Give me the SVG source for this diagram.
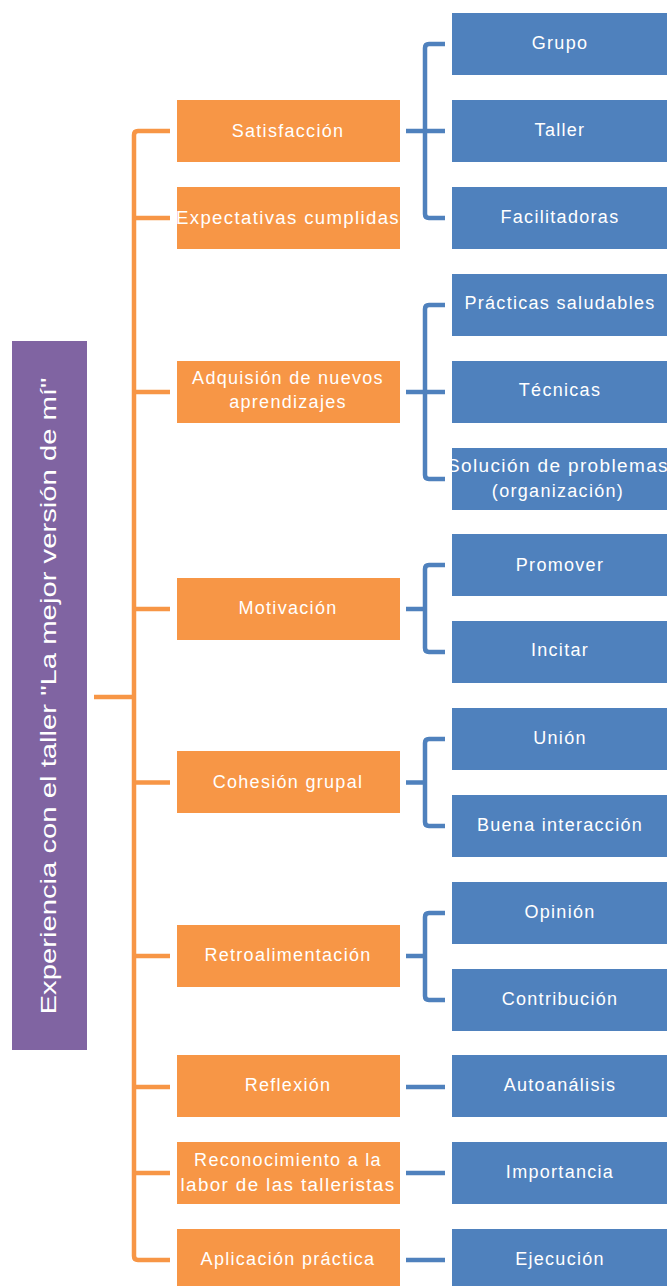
<svg xmlns="http://www.w3.org/2000/svg" width="667" height="1286" viewBox="0 0 667 1286">
<style>
.o{fill:#F79646}
.b{fill:#4F81BD}
.p{fill:#8064A2}
text{font-family:"Liberation Sans",Arial,sans-serif;fill:#FFFFFF;text-anchor:middle}
.t{font-size:18px;letter-spacing:1.3px}
.oc{fill:none;stroke:#F79646;stroke-width:4.5;stroke-linejoin:round}
.bc{fill:none;stroke:#4F81BD;stroke-width:4.5;stroke-linejoin:round}
</style>
<rect width="667" height="1286" fill="#FFFFFF"/>
<g id="connectors">
<path class="oc" d="M94 697H134"/>
<path class="oc" d="M170 131H138Q134 131 134 135V1256Q134 1260 138 1260H170"/>
<path class="oc" d="M134 218H170M134 392H170M134 609H170M134 782.5H170M134 956H170M134 1087H170M134 1173H170"/>
<path class="bc" d="M445 44H429Q425 44 425 48V214Q425 218 429 218H445M406 131H445"/>
<path class="bc" d="M445 305H429Q425 305 425 309V475Q425 479 429 479H445M406 392H445"/>
<path class="bc" d="M445 565H429Q425 565 425 569V648Q425 652 429 652H445M406 609H425"/>
<path class="bc" d="M445 739H429Q425 739 425 743V822Q425 826 429 826H445M406 782.5H425"/>
<path class="bc" d="M445 913H429Q425 913 425 917V996Q425 1000 429 1000H445M406 956H425"/>
<path class="bc" d="M406 1087H445M406 1173H445M406 1260H445"/>
</g>
<g id="root"><rect class="p" x="12" y="341" width="75" height="709"/><text transform="translate(56 696) rotate(-90)" font-size="22" textLength="637" lengthAdjust="spacingAndGlyphs">Experiencia con el taller "La mejor versión de mí"</text></g>
<g id="satisfaccion"><rect class="o" x="177" y="100" width="223" height="62"/><text class="t" x="288" y="137">Satisfacción</text></g>
<g id="expectativas"><rect class="o" x="177" y="187" width="223" height="62"/><text class="t" x="288" y="224" textLength="224" lengthAdjust="spacingAndGlyphs">Expectativas cumplidas</text></g>
<g id="adquisicion"><rect class="o" x="177" y="361" width="223" height="62"/><text class="t" x="288" y="384">Adquisión de nuevos</text><text class="t" x="288" y="408">aprendizajes</text></g>
<g id="motivacion"><rect class="o" x="177" y="578" width="223" height="62"/><text class="t" x="288" y="614">Motivación</text></g>
<g id="cohesion"><rect class="o" x="177" y="751" width="223" height="62"/><text class="t" x="288" y="788">Cohesión grupal</text></g>
<g id="retroalimentacion"><rect class="o" x="177" y="925" width="223" height="62"/><text class="t" x="288" y="961">Retroalimentación</text></g>
<g id="reflexion"><rect class="o" x="177" y="1055" width="223" height="62"/><text class="t" x="288" y="1091">Reflexión</text></g>
<g id="reconocimiento"><rect class="o" x="177" y="1142" width="223" height="62"/><text class="t" x="288" y="1166">Reconocimiento a la</text><text class="t" x="288" y="1191" textLength="215" lengthAdjust="spacingAndGlyphs">labor de las talleristas</text></g>
<g id="aplicacion"><rect class="o" x="177" y="1229" width="223" height="62"/><text class="t" x="288" y="1265">Aplicación práctica</text></g>
<g id="grupo"><rect class="b" x="452" y="13" width="215" height="62"/><text class="t" x="560" y="49">Grupo</text></g>
<g id="taller"><rect class="b" x="452" y="100" width="215" height="62"/><text class="t" x="560" y="136">Taller</text></g>
<g id="facilitadoras"><rect class="b" x="452" y="187" width="215" height="62"/><text class="t" x="560" y="223">Facilitadoras</text></g>
<g id="practicas"><rect class="b" x="452" y="274" width="215" height="62"/><text class="t" x="560" y="309">Prácticas saludables</text></g>
<g id="tecnicas"><rect class="b" x="452" y="361" width="215" height="62"/><text class="t" x="560" y="396">Técnicas</text></g>
<g id="solucion"><rect class="b" x="452" y="448" width="215" height="62"/><text class="t" x="558" y="472" textLength="222" lengthAdjust="spacingAndGlyphs">Solución de problemas</text><text class="t" x="558" y="497">(organización)</text></g>
<g id="promover"><rect class="b" x="452" y="534" width="215" height="62"/><text class="t" x="560" y="571">Promover</text></g>
<g id="incitar"><rect class="b" x="452" y="621" width="215" height="62"/><text class="t" x="560" y="656">Incitar</text></g>
<g id="union"><rect class="b" x="452" y="708" width="215" height="62"/><text class="t" x="560" y="744">Unión</text></g>
<g id="buena"><rect class="b" x="452" y="795" width="215" height="62"/><text class="t" x="560" y="831">Buena interacción</text></g>
<g id="opinion"><rect class="b" x="452" y="882" width="215" height="62"/><text class="t" x="560" y="918">Opinión</text></g>
<g id="contribucion"><rect class="b" x="452" y="969" width="215" height="62"/><text class="t" x="560" y="1005">Contribución</text></g>
<g id="autoanalisis"><rect class="b" x="452" y="1055" width="215" height="62"/><text class="t" x="560" y="1091">Autoanálisis</text></g>
<g id="importancia"><rect class="b" x="452" y="1142" width="215" height="62"/><text class="t" x="560" y="1178">Importancia</text></g>
<g id="ejecucion"><rect class="b" x="452" y="1229" width="215" height="62"/><text class="t" x="560" y="1265">Ejecución</text></g>
</svg>
